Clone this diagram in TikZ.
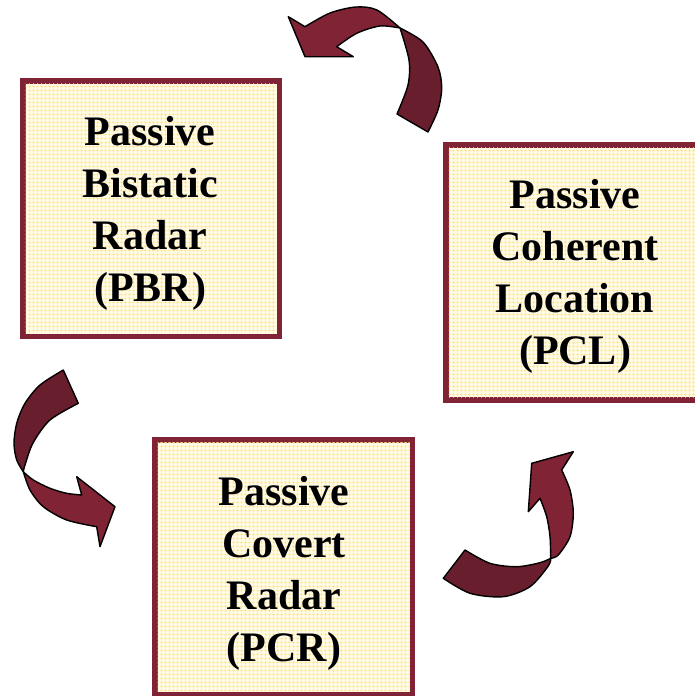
\documentclass[tikz,border=0pt]{standalone}
\usepackage{fontspec}
\setmainfont{Liberation Serif}
\usetikzlibrary{patterns.meta}

\definecolor{wine}{RGB}{127,35,53}
\definecolor{winedark}{RGB}{104,30,44}
\definecolor{paper}{RGB}{255,251,228}
\definecolor{gridgold}{RGB}{255,226,140}

\tikzdeclarepattern{
  name=finegrid, type=uncolored,
  bounding box={(0pt,0pt) and (4pt,4pt)},
  tile size={(4pt,4pt)},
  code={\draw[line width=0.8pt] (0pt,2pt) -- (4pt,2pt) (2pt,0pt) -- (2pt,4pt);}
}

\tikzset{
  termbox/.style={draw=wine, line width=5.5pt, fill=paper},
  termgrid/.style={pattern=finegrid, pattern color=gridgold},
  termtext/.style={font=\fontsize{42}{52}\selectfont\bfseries, align=center, text=black},
  frontface/.style={fill=wine, draw=black, line width=1.4pt, line join=round},
  backface/.style={fill=winedark, draw=black, line width=1.4pt, line join=round}
}

\begin{document}
\begin{tikzpicture}[x=1pt, y=-1pt]
  \useasboundingbox (0,0) rectangle (695,696);
  \clip (0,0) rectangle (695,696);

  % the three boxes
  \foreach \xa/\ya/\xb/\yb in {22.75/80.75/279.25/336.25, 445.75/144.75/704/400, 154.75/439.75/412.25/694.5} {
    \path[termbox] (\xa,\ya) rectangle (\xb,\yb);
    \path[termgrid] (\xa+2.75,\ya+2.75) rectangle (\xb-2.75,\yb-2.75);
  }

  \node[termtext] (pbr) at (150,213) {Passive\\Bistatic\\Radar\\(PBR)};
  \node[termtext] (pcl) at (575,276) {Passive\\Coherent\\Location\\(PCL)};
  \node[termtext] (pcr) at (284,573) {Passive\\Covert\\Radar\\(PCR)};

  % top curved arrow (PCL -> PBR)
  \path[backface] (400,28)
    -- plot[smooth] coordinates {(400,28) (423,42) (438,67) (441.7,88) (438,110) (428,132)}
    -- (397,114)
    -- plot[smooth] coordinates {(397,114) (408,85) (409,60) (400,28)} -- cycle;
  \path[frontface] (400,28)
    -- plot[smooth] coordinates {(400,28) (377,10) (356,7) (330,13) (305,26.7)}
    -- (288.3,16.7) -- (305,56.7) -- (353.3,56.7) -- (336.7,46.7)
    -- plot[smooth] coordinates {(336.7,46.7) (356.7,33.3) (380,26) (400,28)} -- cycle;

  % left curved arrow (PBR -> PCR)
  \path[backface] (63.3,370) -- (78.3,403.3)
    -- plot[smooth] coordinates {(78.3,403.3) (50,420) (33,443) (25,465) (23.3,471.7)}
    -- plot[smooth] coordinates {(23.3,471.7) (16.7,460) (14,443.3) (16.7,423.3) (25,403.3) (40,385) (63.3,370)} -- cycle;
  \path[frontface] (23.3,471.7)
    -- plot[smooth] coordinates {(23.3,471.7) (33.3,480) (50,488.3) (66.7,493.3) (81.7,495)}
    -- (76.7,476.7) -- (115,506.7) -- (100,546.7) -- (96.7,526.7)
    -- plot[smooth] coordinates {(96.7,526.7) (66.7,520) (43.3,506.7) (30,490) (23.3,471.7)} -- cycle;

  % right curved arrow (PCR -> PCL)
  \path[backface] (443.3,578.3) -- (465,550)
    -- plot[smooth] coordinates {(465,550) (490,563.3) (516.7,566.7) (540,562.7) (550.7,558.3)}
    -- plot[smooth] coordinates {(550.7,558.3) (548.3,566) (530,586.7) (503.3,596.7) (470,593.3) (443.3,578.3)} -- cycle;
  \path[frontface] (550.7,558.3)
    -- plot[smooth] coordinates {(550.7,558.3) (558.3,555) (570,536.7) (573.3,513.3) (570,490) (561.7,470)}
    -- (573.3,451.7) -- (531.7,463.3) -- (528.3,511.7) -- (540,498.3)
    -- plot[smooth] coordinates {(540,498.3) (546.7,516.7) (550,536.7) (550.7,558.3)} -- cycle;
\end{tikzpicture}
\end{document}
